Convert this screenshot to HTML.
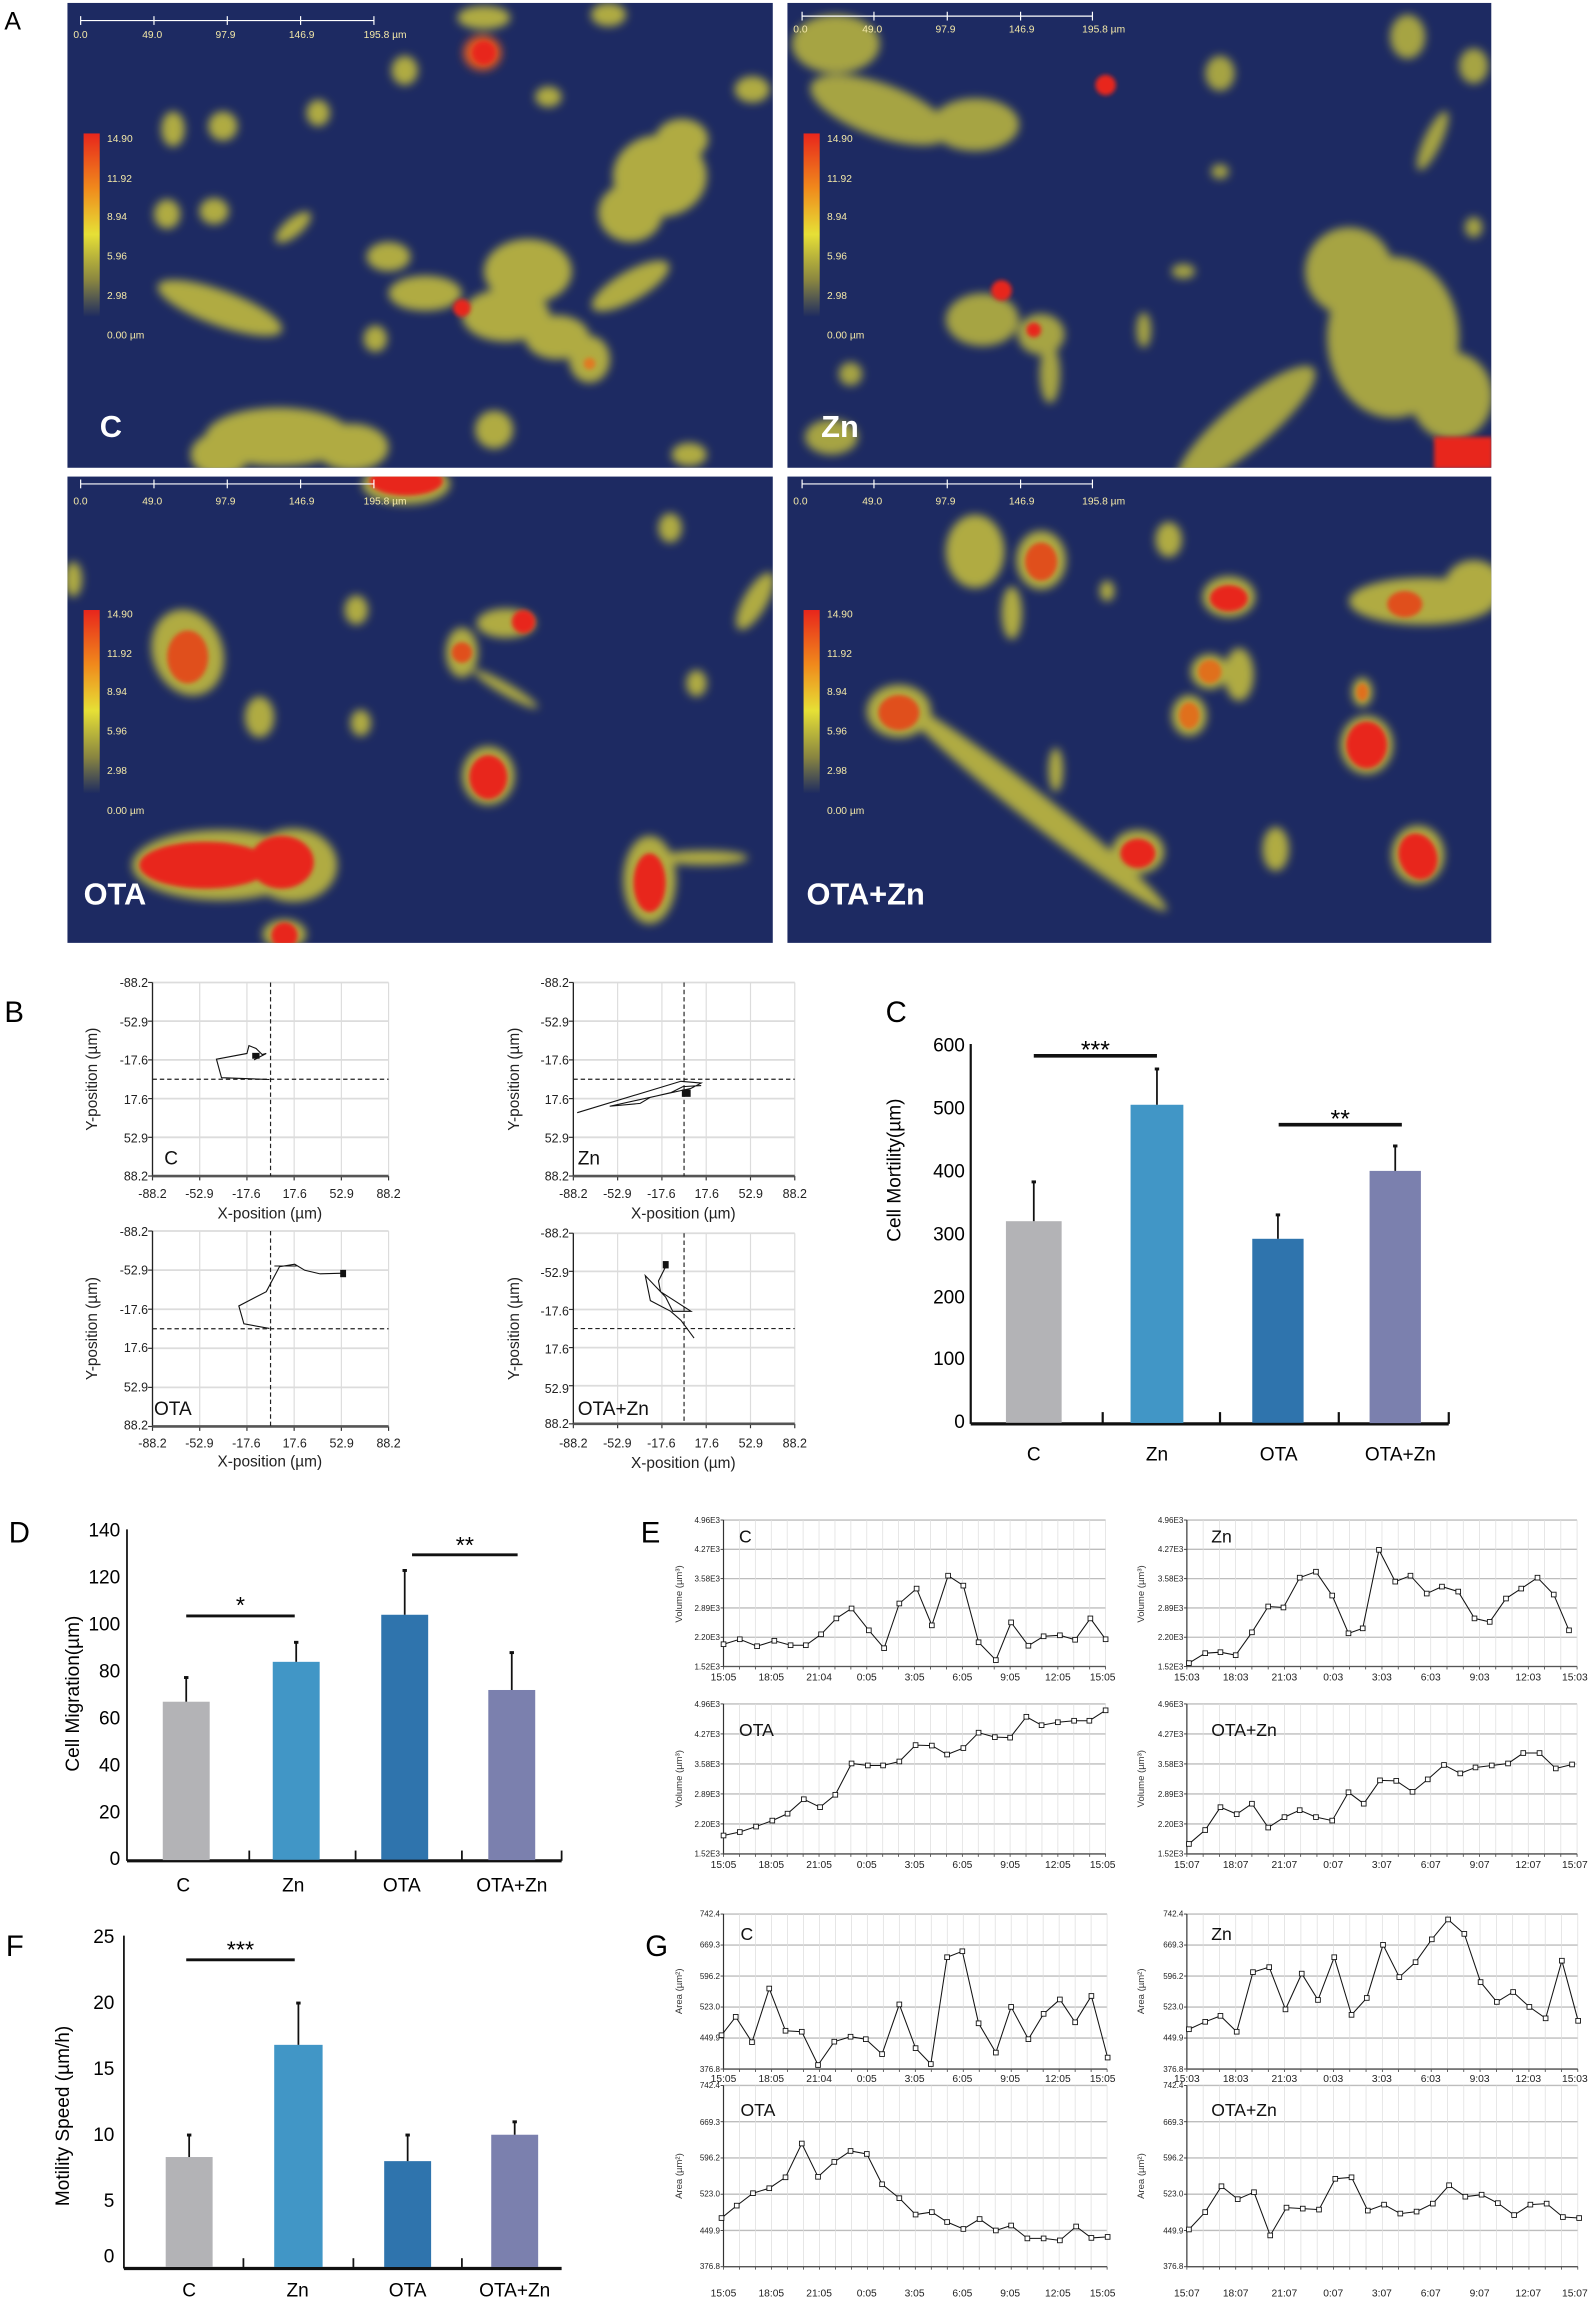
<!DOCTYPE html>
<html><head><meta charset="utf-8"><style>
html,body{margin:0;padding:0;background:#fff;width:1591px;height:2300px;overflow:hidden}
svg{display:block}
text{font-family:"Liberation Sans",sans-serif}
.n{font-family:"Liberation Sans Narrow","Liberation Sans",sans-serif}
</style></head><body>
<svg id="s" width="1591" height="2300" viewBox="0 0 1085 1568.5" xmlns="http://www.w3.org/2000/svg">
<defs>
<filter id="bl" x="-50%" y="-50%" width="200%" height="200%"><feGaussianBlur stdDeviation="3"/></filter>
<filter id="bl2" x="-50%" y="-50%" width="200%" height="200%"><feGaussianBlur stdDeviation="1.5"/></filter>
<linearGradient id="cb" x1="0" y1="0" x2="0" y2="1"><stop offset="0" stop-color="#e8261c"/><stop offset="0.3" stop-color="#f08a1c"/><stop offset="0.55" stop-color="#e6e036"/><stop offset="0.8" stop-color="#8a8640"/><stop offset="1" stop-color="#1e2b60"/></linearGradient>
<clipPath id="c1"><rect x="46" y="2" width="481" height="317"/></clipPath>
<clipPath id="c2"><rect x="537" y="2" width="480" height="317"/></clipPath>
<clipPath id="c3"><rect x="46" y="325" width="481" height="318"/></clipPath>
<clipPath id="c4"><rect x="537" y="325" width="480" height="318"/></clipPath>
</defs>
<text x="3" y="20" font-size="17" class="n">A</text>
<rect x="46" y="2" width="481" height="317" fill="#1d2a62"/>
<rect x="537" y="2" width="480" height="317" fill="#1d2a62"/>
<rect x="46" y="325" width="481" height="318" fill="#1d2a62"/>
<rect x="537" y="325" width="480" height="318" fill="#1d2a62"/>
<g clip-path="url(#c1)" filter="url(#bl)">
<g fill="#c9c23c" opacity="0.85">
<ellipse cx="450" cy="120" rx="32" ry="28"/><ellipse cx="430" cy="145" rx="22" ry="20"/><ellipse cx="465" cy="95" rx="18" ry="14"/>
<ellipse cx="360" cy="185" rx="30" ry="22"/><ellipse cx="345" cy="215" rx="30" ry="18"/><ellipse cx="380" cy="230" rx="22" ry="15"/>
<ellipse cx="290" cy="200" rx="25" ry="12"/><ellipse cx="265" cy="175" rx="15" ry="10"/>
<ellipse cx="150" cy="210" rx="45" ry="12" transform="rotate(20 150 210)"/>
<ellipse cx="402" cy="245" rx="14" ry="16"/><ellipse cx="430" cy="195" rx="30" ry="10" transform="rotate(-30 430 195)"/>
<ellipse cx="190" cy="298" rx="50" ry="20"/><ellipse cx="240" cy="305" rx="25" ry="16"/><ellipse cx="150" cy="310" rx="20" ry="15"/>
<ellipse cx="337" cy="293" rx="13" ry="13"/><ellipse cx="256" cy="231" rx="8" ry="9"/><ellipse cx="276" cy="48" rx="9" ry="10"/>
<ellipse cx="374" cy="66" rx="9" ry="7"/><ellipse cx="118" cy="88" rx="8" ry="12"/><ellipse cx="152" cy="86" rx="10" ry="10"/>
<ellipse cx="114" cy="146" rx="9" ry="10"/><ellipse cx="146" cy="144" rx="10" ry="9"/><ellipse cx="513" cy="61" rx="12" ry="9"/>
<ellipse cx="217" cy="77" rx="8" ry="9"/><ellipse cx="330" cy="12" rx="18" ry="8"/><ellipse cx="415" cy="10" rx="12" ry="8"/>
<ellipse cx="200" cy="155" rx="15" ry="6" transform="rotate(-40 200 155)"/><ellipse cx="470" cy="310" rx="12" ry="8"/>
</g>
<ellipse cx="329" cy="36" rx="13" ry="12" fill="#e05a20"/>
</g>
<g clip-path="url(#c1)" filter="url(#bl2)" fill="#e8261c"><circle cx="315" cy="210" r="6"/><circle cx="330" cy="36" r="8"/><circle cx="402" cy="248" r="4" fill="#e07a20"/></g>
<g clip-path="url(#c2)" filter="url(#bl)">
<g fill="#c9c23c" opacity="0.8">
<ellipse cx="600" cy="75" rx="50" ry="18" transform="rotate(20 600 75)"/><ellipse cx="665" cy="85" rx="30" ry="18"/><ellipse cx="570" cy="30" rx="30" ry="20"/>
<ellipse cx="832" cy="50" rx="10" ry="12"/><ellipse cx="977" cy="96" rx="6" ry="22" transform="rotate(25 977 96)"/><ellipse cx="832" cy="117" rx="6" ry="5"/>
<ellipse cx="670" cy="218" rx="25" ry="18"/><ellipse cx="710" cy="228" rx="16" ry="14"/><ellipse cx="716" cy="255" rx="7" ry="20"/>
<ellipse cx="950" cy="230" rx="45" ry="55"/><ellipse cx="920" cy="185" rx="30" ry="30"/><ellipse cx="990" cy="270" rx="28" ry="30"/>
<ellipse cx="850" cy="290" rx="60" ry="16" transform="rotate(-40 850 290)"/><ellipse cx="807" cy="185" rx="8" ry="5"/>
<ellipse cx="960" cy="25" rx="12" ry="15"/><ellipse cx="1005" cy="45" rx="10" ry="12"/><ellipse cx="1005" cy="155" rx="6" ry="7"/>
<ellipse cx="580" cy="255" rx="8" ry="8"/><ellipse cx="567" cy="298" rx="18" ry="12"/><ellipse cx="780" cy="225" rx="5" ry="12"/>
</g>
</g>
<g clip-path="url(#c2)" filter="url(#bl2)" fill="#e8261c"><circle cx="754" cy="58" r="7"/><circle cx="683" cy="198" r="7"/><circle cx="705" cy="225" r="5"/><rect x="978" y="298" width="40" height="22"/></g>
<g clip-path="url(#c3)" filter="url(#bl)">
<g fill="#c9c23c" opacity="0.85">
<ellipse cx="128" cy="445" rx="24" ry="30" transform="rotate(-20 128 445)"/><ellipse cx="177" cy="489" rx="10" ry="14"/><ellipse cx="243" cy="416" rx="8" ry="10"/>
<ellipse cx="315" cy="445" rx="11" ry="17"/><ellipse cx="345" cy="425" rx="20" ry="10"/><ellipse cx="475" cy="466" rx="7" ry="9"/>
<ellipse cx="333" cy="529" rx="18" ry="20"/><ellipse cx="150" cy="590" rx="60" ry="24"/><ellipse cx="200" cy="590" rx="30" ry="25"/>
<ellipse cx="443" cy="600" rx="18" ry="30"/><ellipse cx="480" cy="585" rx="30" ry="5"/><ellipse cx="194" cy="637" rx="15" ry="10"/>
<ellipse cx="457" cy="360" rx="8" ry="10"/><ellipse cx="246" cy="493" rx="7" ry="9"/><ellipse cx="277" cy="330" rx="30" ry="14"/>
<ellipse cx="515" cy="410" rx="8" ry="22" transform="rotate(30 515 410)"/><ellipse cx="50" cy="395" rx="6" ry="12"/><ellipse cx="345" cy="470" rx="25" ry="4" transform="rotate(30 345 470)"/>
</g>
</g>
<g clip-path="url(#c3)" filter="url(#bl2)" fill="#e8261c">
<ellipse cx="128" cy="448" rx="14" ry="18" fill="#e0501e"/><circle cx="357" cy="424" r="8"/><circle cx="315" cy="445" r="7" fill="#e0501e"/>
<ellipse cx="333" cy="530" rx="13" ry="15"/><ellipse cx="140" cy="590" rx="45" ry="16"/><ellipse cx="192" cy="588" rx="22" ry="18"/>
<ellipse cx="443" cy="602" rx="11" ry="20"/><circle cx="194" cy="638" r="9"/><ellipse cx="277" cy="328" rx="25" ry="10"/>
</g>
<g clip-path="url(#c4)" filter="url(#bl)">
<g fill="#c9c23c" opacity="0.85">
<ellipse cx="710" cy="382" rx="17" ry="20"/><ellipse cx="665" cy="376" rx="20" ry="25"/><ellipse cx="838" cy="407" rx="18" ry="14"/>
<ellipse cx="970" cy="410" rx="50" ry="16"/><ellipse cx="1005" cy="400" rx="20" ry="18"/><ellipse cx="690" cy="418" rx="7" ry="18"/>
<ellipse cx="825" cy="458" rx="13" ry="12"/><ellipse cx="845" cy="460" rx="10" ry="18"/><ellipse cx="811" cy="488" rx="12" ry="14"/>
<ellipse cx="929" cy="472" rx="7" ry="10"/><ellipse cx="932" cy="508" rx="18" ry="20"/><ellipse cx="613" cy="485" rx="22" ry="18"/>
<ellipse cx="705" cy="550" rx="115" ry="10" transform="rotate(38 705 550)"/><ellipse cx="776" cy="581" rx="18" ry="15"/>
<ellipse cx="967" cy="583" rx="18" ry="20"/><ellipse cx="870" cy="579" rx="9" ry="15"/><ellipse cx="797" cy="368" rx="9" ry="12"/>
<ellipse cx="755" cy="403" rx="5" ry="7"/><ellipse cx="720" cy="525" rx="5" ry="15"/>
</g>
</g>
<g clip-path="url(#c4)" filter="url(#bl2)" fill="#e8261c">
<ellipse cx="710" cy="383" rx="11" ry="13" fill="#e0501e"/><ellipse cx="838" cy="408" rx="13" ry="9"/><ellipse cx="958" cy="412" rx="12" ry="9" fill="#e0501e"/>
<ellipse cx="825" cy="458" rx="8" ry="8" fill="#e0701e"/><ellipse cx="811" cy="488" rx="7" ry="9" fill="#e0701e"/><ellipse cx="932" cy="508" rx="14" ry="16"/>
<ellipse cx="613" cy="486" rx="14" ry="12" fill="#e0501e"/><ellipse cx="776" cy="582" rx="12" ry="10"/><ellipse cx="967" cy="584" rx="13" ry="16" transform="rotate(-20 967 584)"/>
<ellipse cx="929" cy="472" rx="4" ry="6" fill="#e0701e"/>
</g>
<!-- scale bars & colorbars -->
<g fill="#f3e8a8" font-size="7" class="n" stroke-width="0.8">
<g stroke="#fff"><line x1="55" y1="14" x2="255" y2="14"/><line x1="55" y1="11" x2="55" y2="17"/><line x1="105" y1="11" x2="105" y2="17"/><line x1="155" y1="11" x2="155" y2="17"/><line x1="205" y1="11" x2="205" y2="17"/><line x1="255" y1="11" x2="255" y2="17"/>
<line x1="547" y1="11" x2="745" y2="11"/><line x1="547" y1="8" x2="547" y2="14"/><line x1="596" y1="8" x2="596" y2="14"/><line x1="646" y1="8" x2="646" y2="14"/><line x1="696" y1="8" x2="696" y2="14"/><line x1="745" y1="8" x2="745" y2="14"/>
<line x1="55" y1="330" x2="255" y2="330"/><line x1="55" y1="327" x2="55" y2="333"/><line x1="105" y1="327" x2="105" y2="333"/><line x1="155" y1="327" x2="155" y2="333"/><line x1="205" y1="327" x2="205" y2="333"/><line x1="255" y1="327" x2="255" y2="333"/>
<line x1="547" y1="330" x2="745" y2="330"/><line x1="547" y1="327" x2="547" y2="333"/><line x1="596" y1="327" x2="596" y2="333"/><line x1="646" y1="327" x2="646" y2="333"/><line x1="696" y1="327" x2="696" y2="333"/><line x1="745" y1="327" x2="745" y2="333"/></g>
<text x="50" y="26">0.0</text><text x="97" y="26">49.0</text><text x="147" y="26">97.9</text><text x="197" y="26">146.9</text><text x="248" y="26">195.8 µm</text>
<text x="541" y="22">0.0</text><text x="588" y="22">49.0</text><text x="638" y="22">97.9</text><text x="688" y="22">146.9</text><text x="738" y="22">195.8 µm</text>
<text x="50" y="344">0.0</text><text x="97" y="344">49.0</text><text x="147" y="344">97.9</text><text x="197" y="344">146.9</text><text x="248" y="344">195.8 µm</text>
<text x="541" y="344">0.0</text><text x="588" y="344">49.0</text><text x="638" y="344">97.9</text><text x="688" y="344">146.9</text><text x="738" y="344">195.8 µm</text>
<rect x="57" y="91" width="11" height="125" fill="url(#cb)"/><rect x="548" y="91" width="11" height="125" fill="url(#cb)"/>
<rect x="57" y="416" width="11" height="125" fill="url(#cb)"/><rect x="548" y="416" width="11" height="125" fill="url(#cb)"/>
<text x="73" y="97">14.90</text><text x="73" y="124">11.92</text><text x="73" y="150">8.94</text><text x="73" y="177">5.96</text><text x="73" y="204">2.98</text><text x="73" y="231">0.00 µm</text>
<text x="564" y="97">14.90</text><text x="564" y="124">11.92</text><text x="564" y="150">8.94</text><text x="564" y="177">5.96</text><text x="564" y="204">2.98</text><text x="564" y="231">0.00 µm</text>
<text x="73" y="421">14.90</text><text x="73" y="448">11.92</text><text x="73" y="474">8.94</text><text x="73" y="501">5.96</text><text x="73" y="528">2.98</text><text x="73" y="555">0.00 µm</text>
<text x="564" y="421">14.90</text><text x="564" y="448">11.92</text><text x="564" y="474">8.94</text><text x="564" y="501">5.96</text><text x="564" y="528">2.98</text><text x="564" y="555">0.00 µm</text>
</g>
<g fill="#fff" font-weight="bold" font-size="21">
<text x="68" y="298">C</text><text x="560" y="298">Zn</text><text x="57" y="617">OTA</text><text x="550" y="617">OTA+Zn</text>
</g>

<!-- B -->
<text x="3" y="697" font-size="20" class="n">B</text>
<g id="bgrids"></g>
<g font-size="8.5" fill="#222" text-anchor="end">
<text x="101" y="673">-88.2</text><text x="101" y="700">-52.9</text><text x="101" y="726">-17.6</text><text x="101" y="753">17.6</text><text x="101" y="779">52.9</text><text x="101" y="805">88.2</text>
<text x="388" y="673">-88.2</text><text x="388" y="700">-52.9</text><text x="388" y="726">-17.6</text><text x="388" y="753">17.6</text><text x="388" y="779">52.9</text><text x="388" y="805">88.2</text>
<text x="101" y="843">-88.2</text><text x="101" y="869">-52.9</text><text x="101" y="896">-17.6</text><text x="101" y="922">17.6</text><text x="101" y="949">52.9</text><text x="101" y="975">88.2</text>
<text x="388" y="844">-88.2</text><text x="388" y="871">-52.9</text><text x="388" y="897">-17.6</text><text x="388" y="923">17.6</text><text x="388" y="950">52.9</text><text x="388" y="974">88.2</text>
</g>
<g font-size="8.5" fill="#222" text-anchor="middle">
<text x="104" y="817">-88.2</text><text x="136" y="817">-52.9</text><text x="168" y="817">-17.6</text><text x="201" y="817">17.6</text><text x="233" y="817">52.9</text><text x="265" y="817">88.2</text>
<text x="391" y="817">-88.2</text><text x="421" y="817">-52.9</text><text x="451" y="817">-17.6</text><text x="482" y="817">17.6</text><text x="512" y="817">52.9</text><text x="542" y="817">88.2</text>
<text x="104" y="987">-88.2</text><text x="136" y="987">-52.9</text><text x="168" y="987">-17.6</text><text x="201" y="987">17.6</text><text x="233" y="987">52.9</text><text x="265" y="987">88.2</text>
<text x="391" y="987">-88.2</text><text x="421" y="987">-52.9</text><text x="451" y="987">-17.6</text><text x="482" y="987">17.6</text><text x="512" y="987">52.9</text><text x="542" y="987">88.2</text>
<g font-size="10.5"><text x="184" y="831">X-position (µm)</text><text x="466" y="831">X-position (µm)</text><text x="184" y="1000">X-position (µm)</text><text x="466" y="1001">X-position (µm)</text>
<text transform="translate(66 736) rotate(-90)">Y-position (µm)</text><text transform="translate(354 736) rotate(-90)">Y-position (µm)</text>
<text transform="translate(66 906) rotate(-90)">Y-position (µm)</text><text transform="translate(354 906) rotate(-90)">Y-position (µm)</text></g>
</g>
<g font-size="13" fill="#111"><text x="112" y="794">C</text><text x="394" y="794">Zn</text><text x="105" y="965">OTA</text><text x="394" y="965">OTA+Zn</text></g>
<g transform="matrix(0.693,0,0,0.2432,0,654.7)" fill="none" stroke="#111" stroke-width="1.1" vector-effect="non-scaling-stroke">
<polyline vector-effect="non-scaling-stroke" points="265,335 218,330 213,278 243,262 245,240 252,248 258,265 262,262 250,280"/>
<polyline vector-effect="non-scaling-stroke" points="568,428 670,340 690,345 680,360 600,410 630,402 640,385 660,372 672,355 690,352"/>
<polyline vector-effect="non-scaling-stroke" points="265,1033 240,1020 235,970 262,930 275,860 290,853 300,870 315,880 338,878"/>
<polyline vector-effect="non-scaling-stroke" points="270,858 292,858"/>
<polyline vector-effect="non-scaling-stroke" points="683,1060 670,1010 660,985 640,955 635,885 655,945 662,985 680,985 650,930 648,900 655,860"/>
</g>
<g fill="#111"><rect x="172" y="718" width="5" height="4"/><rect x="465" y="743" width="6" height="5"/><rect x="232" y="866" width="4" height="5"/><rect x="452" y="860" width="4" height="5"/></g>

<!-- C -->
<text x="604" y="697" font-size="20" class="n">C</text>
<g stroke="#111" stroke-width="1.5"><line x1="662" y1="712" x2="662" y2="971"/><line x1="662" y1="971" x2="988" y2="971" stroke-width="2.2"/>
<line x1="752" y1="963" x2="752" y2="971"/><line x1="832" y1="963" x2="832" y2="971"/><line x1="913" y1="963" x2="913" y2="971"/><line x1="988" y1="963" x2="988" y2="971"/></g>
<g font-size="13" text-anchor="end" class="n"><text x="658" y="717">600</text><text x="658" y="760">500</text><text x="658" y="803">400</text><text x="658" y="846">300</text><text x="658" y="889">200</text><text x="658" y="931">100</text><text x="658" y="974">0</text></g>
<rect x="686" y="832.8" width="38" height="137.5" fill="#b3b3b6"/><rect x="771" y="753.4" width="36" height="217" fill="#4196c6"/>
<rect x="854" y="844.8" width="35" height="125.5" fill="#2f74ad"/><rect x="934" y="798.5" width="35" height="172" fill="#7b80ae"/>
<g stroke="#111" stroke-width="1.2"><line x1="705" y1="832.8" x2="705" y2="806"/><line x1="789" y1="753.4" x2="789" y2="729"/><line x1="871.5" y1="844.8" x2="871.5" y2="828.5"/><line x1="951.5" y1="798.5" x2="951.5" y2="781.5"/>
<line x1="705" y1="720" x2="789" y2="720" stroke-width="2.5"/><line x1="872" y1="767" x2="956" y2="767" stroke-width="2.5"/></g>
<g fill="#111"><rect x="703.5" y="805" width="3" height="2"/><rect x="787.5" y="728" width="3" height="2"/><rect x="870" y="827.5" width="3" height="2"/><rect x="950" y="780.5" width="3" height="2"/></g>
<g font-size="17" text-anchor="middle"><text x="747" y="722">***</text><text x="914" y="769">**</text></g>
<g font-size="13" text-anchor="middle" class="n"><text x="705" y="996">C</text><text x="789" y="996">Zn</text><text x="872" y="996">OTA</text><text x="955" y="996">OTA+Zn</text>
<text transform="translate(614 798) rotate(-90)" font-size="13" font-family="Liberation Sans">Cell Mortility(µm)</text></g>

<!-- D -->
<text x="6" y="1052" font-size="20" class="n">D</text>
<g stroke="#111" stroke-width="1.2"><line x1="86.6" y1="1043" x2="86.6" y2="1269"/><line x1="86.6" y1="1269" x2="383" y2="1269" stroke-width="2.2"/>
<line x1="170" y1="1262" x2="170" y2="1269"/><line x1="242.5" y1="1262" x2="242.5" y2="1269"/><line x1="315" y1="1262" x2="315" y2="1269"/><line x1="383" y1="1262" x2="383" y2="1269"/></g>
<g font-size="13" text-anchor="end" class="n"><text x="82" y="1048">140</text><text x="82" y="1080">120</text><text x="82" y="1112">100</text><text x="82" y="1144">80</text><text x="82" y="1176">60</text><text x="82" y="1208">40</text><text x="82" y="1240">20</text><text x="82" y="1272">0</text></g>
<rect x="111" y="1160.5" width="32" height="108" fill="#b3b3b6"/><rect x="186" y="1133.3" width="32" height="135" fill="#4196c6"/>
<rect x="260" y="1101.2" width="32" height="167" fill="#2f74ad"/><rect x="333" y="1152.5" width="32" height="116" fill="#7b80ae"/>
<g stroke="#111" stroke-width="1.2"><line x1="127" y1="1160.5" x2="127" y2="1143.7"/><line x1="202" y1="1133.3" x2="202" y2="1119.6"/><line x1="276" y1="1101.2" x2="276" y2="1070.7"/><line x1="349" y1="1152.5" x2="349" y2="1126.8"/>
<line x1="127" y1="1102" x2="201" y2="1102" stroke-width="2"/><line x1="281" y1="1060.3" x2="353" y2="1060.3" stroke-width="2"/></g>
<g fill="#111"><rect x="125.5" y="1143" width="3" height="2"/><rect x="200.5" y="1119" width="3" height="2"/><rect x="274.5" y="1070" width="3" height="2"/><rect x="347.5" y="1126" width="3" height="2"/></g>
<g font-size="16" text-anchor="middle"><text x="164" y="1100">*</text><text x="317" y="1059">**</text></g>
<g font-size="13" text-anchor="middle" class="n"><text x="125" y="1290">C</text><text x="200" y="1290">Zn</text><text x="274" y="1290">OTA</text><text x="349" y="1290">OTA+Zn</text>
<text transform="translate(54 1155) rotate(-90)" font-family="Liberation Sans">Cell Migration(µm)</text></g>

<!-- F -->
<text x="4" y="1334" font-size="20" class="n">F</text>
<g stroke="#111" stroke-width="1.2"><line x1="84.5" y1="1320" x2="84.5" y2="1547"/><line x1="84.5" y1="1547" x2="383" y2="1547" stroke-width="2.2"/>
<line x1="166" y1="1540" x2="166" y2="1547"/><line x1="241" y1="1540" x2="241" y2="1547"/><line x1="315" y1="1540" x2="315" y2="1547"/></g>
<g font-size="13" text-anchor="end" class="n"><text x="78" y="1325">25</text><text x="78" y="1370">20</text><text x="78" y="1415">15</text><text x="78" y="1460">10</text><text x="78" y="1505">5</text><text x="78" y="1543">0</text></g>
<rect x="113" y="1471" width="32" height="75" fill="#b3b3b6"/><rect x="187" y="1394.5" width="33" height="151.5" fill="#4196c6"/>
<rect x="262" y="1473.8" width="32" height="72.2" fill="#2f74ad"/><rect x="335" y="1455.8" width="32" height="90.2" fill="#7b80ae"/>
<g stroke="#111" stroke-width="1.2"><line x1="129" y1="1471" x2="129" y2="1455.8"/><line x1="203.5" y1="1394.5" x2="203.5" y2="1365.6"/><line x1="278" y1="1473.8" x2="278" y2="1455.8"/><line x1="351" y1="1455.8" x2="351" y2="1446.8"/>
<line x1="127" y1="1336.5" x2="201" y2="1336.5" stroke-width="2"/></g>
<g fill="#111"><rect x="127.5" y="1455" width="3" height="2"/><rect x="202" y="1365" width="3" height="2"/><rect x="276.5" y="1455" width="3" height="2"/><rect x="349.5" y="1446" width="3" height="2"/></g>
<text x="164" y="1335" font-size="16" text-anchor="middle">***</text>
<g font-size="13" text-anchor="middle" class="n"><text x="129" y="1566">C</text><text x="203" y="1566">Zn</text><text x="278" y="1566">OTA</text><text x="351" y="1566">OTA+Zn</text>
<text transform="translate(47 1443) rotate(-90)" font-family="Liberation Sans">Motility Speed (µm/h)</text></g>

<!-- E & G -->
<text x="437" y="1052" font-size="20" class="n">E</text>
<text x="440" y="1334" font-size="20" class="n">G</text>
<g id="lines"></g>
<g font-size="12" fill="#111">
<text x="504" y="1052">C</text><text x="826" y="1052">Zn</text><text x="504" y="1184">OTA</text><text x="826" y="1184">OTA+Zn</text>
<text x="505" y="1323">C</text><text x="826" y="1323">Zn</text><text x="505" y="1443">OTA</text><text x="826" y="1443">OTA+Zn</text>
</g>
<g font-size="5.5" text-anchor="end" class="n" fill="#222">
<text x="491" y="1038.5">4.96E3</text><text x="491" y="1058.5">4.27E3</text><text x="491" y="1078.5">3.58E3</text><text x="491" y="1098.5">2.89E3</text><text x="491" y="1118.5">2.20E3</text><text x="491" y="1138.5">1.52E3</text>
<text x="807" y="1038.5">4.96E3</text><text x="807" y="1058.5">4.27E3</text><text x="807" y="1078.5">3.58E3</text><text x="807" y="1098.5">2.89E3</text><text x="807" y="1118.5">2.20E3</text><text x="807" y="1138.5">1.52E3</text>
<text x="491" y="1164">4.96E3</text><text x="491" y="1184.5">4.27E3</text><text x="491" y="1205">3.58E3</text><text x="491" y="1225.5">2.89E3</text><text x="491" y="1246">2.20E3</text><text x="491" y="1266">1.52E3</text>
<text x="807" y="1164">4.96E3</text><text x="807" y="1184.5">4.27E3</text><text x="807" y="1205">3.58E3</text><text x="807" y="1225.5">2.89E3</text><text x="807" y="1246">2.20E3</text><text x="807" y="1266">1.52E3</text>
<text x="491" y="1307">742.4</text><text x="491" y="1328">669.3</text><text x="491" y="1349.5">596.2</text><text x="491" y="1370.5">523.0</text><text x="491" y="1391.5">449.9</text><text x="491" y="1413">376.8</text>
<text x="807" y="1307">742.4</text><text x="807" y="1328">669.3</text><text x="807" y="1349.5">596.2</text><text x="807" y="1370.5">523.0</text><text x="807" y="1391.5">449.9</text><text x="807" y="1413">376.8</text>
<text x="491" y="1424">742.4</text><text x="491" y="1449">669.3</text><text x="491" y="1473.5">596.2</text><text x="491" y="1498">523.0</text><text x="491" y="1523">449.9</text><text x="491" y="1547.5">376.8</text>
<text x="807" y="1424">742.4</text><text x="807" y="1449">669.3</text><text x="807" y="1473.5">596.2</text><text x="807" y="1498">523.0</text><text x="807" y="1523">449.9</text><text x="807" y="1547.5">376.8</text>
</g>
<g font-size="7" text-anchor="middle" class="n" fill="#222">
<g transform="translate(0 1146)"><text x="493.4">15:05</text><text x="526">18:05</text><text x="558.6">21:04</text><text x="591.1">0:05</text><text x="623.7">3:05</text><text x="656.3">6:05</text><text x="688.9">9:05</text><text x="721.4">12:05</text><text x="752">15:05</text></g>
<g transform="translate(0 1146)"><text x="809.4">15:03</text><text x="842.7">18:03</text><text x="875.9">21:03</text><text x="909.2">0:03</text><text x="942.4">3:03</text><text x="975.7">6:03</text><text x="1009">9:03</text><text x="1042.2">12:03</text><text x="1074">15:03</text></g>
<g transform="translate(0 1274)"><text x="493.4">15:05</text><text x="526">18:05</text><text x="558.6">21:05</text><text x="591.1">0:05</text><text x="623.7">3:05</text><text x="656.3">6:05</text><text x="688.9">9:05</text><text x="721.4">12:05</text><text x="752">15:05</text></g>
<g transform="translate(0 1274)"><text x="809.4">15:07</text><text x="842.7">18:07</text><text x="875.9">21:07</text><text x="909.2">0:07</text><text x="942.4">3:07</text><text x="975.7">6:07</text><text x="1009">9:07</text><text x="1042.2">12:07</text><text x="1074">15:07</text></g>
<g transform="translate(0 1420)"><text x="493.4">15:05</text><text x="526">18:05</text><text x="558.6">21:04</text><text x="591.1">0:05</text><text x="623.7">3:05</text><text x="656.3">6:05</text><text x="688.9">9:05</text><text x="721.4">12:05</text><text x="752">15:05</text></g>
<g transform="translate(0 1420)"><text x="809.4">15:03</text><text x="842.7">18:03</text><text x="875.9">21:03</text><text x="909.2">0:03</text><text x="942.4">3:03</text><text x="975.7">6:03</text><text x="1009">9:03</text><text x="1042.2">12:03</text><text x="1074">15:03</text></g>
<g transform="translate(0 1566)"><text x="493.4">15:05</text><text x="526">18:05</text><text x="558.6">21:05</text><text x="591.1">0:05</text><text x="623.7">3:05</text><text x="656.3">6:05</text><text x="688.9">9:05</text><text x="721.4">12:05</text><text x="752">15:05</text></g>
<g transform="translate(0 1566)"><text x="809.4">15:07</text><text x="842.7">18:07</text><text x="875.9">21:07</text><text x="909.2">0:07</text><text x="942.4">3:07</text><text x="975.7">6:07</text><text x="1009">9:07</text><text x="1042.2">12:07</text><text x="1074">15:07</text></g>
</g>
<g font-size="6.5" text-anchor="middle" fill="#333">
<text transform="translate(465 1087) rotate(-90)">Volume (µm³)</text><text transform="translate(780 1087) rotate(-90)">Volume (µm³)</text>
<text transform="translate(465 1213) rotate(-90)">Volume (µm³)</text><text transform="translate(780 1213) rotate(-90)">Volume (µm³)</text>
<text transform="translate(465 1358) rotate(-90)">Area (µm²)</text><text transform="translate(780 1358) rotate(-90)">Area (µm²)</text>
<text transform="translate(465 1484) rotate(-90)">Area (µm²)</text><text transform="translate(780 1484) rotate(-90)">Area (µm²)</text>
</g>
</svg>
<script>
const NS="http://www.w3.org/2000/svg";
function el(p,t,a){const e=document.createElementNS(NS,t);for(const k in a)e.setAttribute(k,a[k]);p.appendChild(e);return e;}
// B grids
const bg=document.getElementById('bgrids');
function bgrid(x0,x1,yt,yb){
 for(let i=0;i<6;i++){const y=yt+i*(yb-yt)/5;el(bg,'line',{x1:x0,x2:x1,y1:y,y2:y,stroke:'#dcdcdc','stroke-width':1.2});
  const x=x0+i*(x1-x0)/5;el(bg,'line',{x1:x,x2:x,y1:yt,y2:yb,stroke:'#dcdcdc','stroke-width':0.8});
  el(bg,'line',{x1:x0-3,x2:x0,y1:y,y2:y,stroke:'#333','stroke-width':0.8});el(bg,'line',{x1:x,x2:x,y1:yb,y2:yb+3,stroke:'#333','stroke-width':0.8});}
 el(bg,'line',{x1:x0,x2:x0,y1:yt,y2:yb,stroke:'#222','stroke-width':0.9});
 el(bg,'line',{x1:x0,x2:x1,y1:yb,y2:yb,stroke:'#555','stroke-width':1.8});
 const cx=(x0+x1)/2,cy=(yt+yb)/2;
 el(bg,'line',{x1:cx,x2:cx,y1:yt,y2:yb,stroke:'#222','stroke-width':0.8,'stroke-dasharray':'3,2'});
 el(bg,'line',{x1:x0,x2:x1,y1:cy,y2:cy,stroke:'#222','stroke-width':0.8,'stroke-dasharray':'3,2'});
}
bgrid(104,265,670,802);bgrid(391,542,670,802);bgrid(104,265,839.5,972.8);bgrid(391,542,841,971);
// line charts
const L=document.getElementById('lines');
const S=(a)=>[a[0]/1.443,1036.6+a[1]*0.3388];
function chart(x0,x1,yt,yb,raw){
 for(let i=0;i<6;i++){const y=yt+i*(yb-yt)/5;el(L,'line',{x1:x0,x2:x1,y1:y,y2:y,stroke:'#bdbdbd','stroke-width':0.9});el(L,'line',{x1:x0-2,x2:x0,y1:y,y2:y,stroke:'#333','stroke-width':0.6});}
 for(let j=0;j<=24;j++){const x=x0+j*(x1-x0)/24;el(L,'line',{x1:x,x2:x,y1:yt,y2:yb,stroke:'#dedede','stroke-width':0.5});el(L,'line',{x1:x,x2:x,y1:yb,y2:yb+2,stroke:'#333','stroke-width':0.5});}
 el(L,'line',{x1:x0,x2:x0,y1:yt,y2:yb,stroke:'#333','stroke-width':0.8});
 el(L,'line',{x1:x0,x2:x1,y1:yb,y2:yb,stroke:'#555','stroke-width':0.9});
 const p=[];for(let i=0;i<raw.length;i+=2)p.push(S([raw[i],raw[i+1]]));
 el(L,'polyline',{points:p.map(q=>q.join(',')).join(' '),fill:'none',stroke:'#111','stroke-width':0.7});
 p.forEach(q=>el(L,'rect',{x:q[0]-1.6,y:q[1]-1.6,width:3.2,height:3.2,fill:'#fff',stroke:'#111','stroke-width':0.6}));
}
chart(493.4,754,1036.6,1136.5,[712,250,728,240,745,254,762,243,778,252,793,252,808,230,823,198,838,178,855,222,870,258,885,168,902,138,917,212,933,112,948,132,963,246,980,282,995,206,1012,253,1027,234,1043,232,1058,241,1073,198,1088,240]);
chart(809.4,1075.5,1036.6,1136.5,[1170,288,1186,268,1201,266,1216,272,1232,226,1248,174,1263,176,1279,116,1295,104,1311,152,1327,228,1341,218,1357,60,1373,124,1388,112,1404,148,1419,134,1435,144,1451,198,1466,205,1482,158,1497,138,1513,116,1529,150,1544,222]);
chart(493.4,754,1162,1264.3,[712,635,728,628,744,617,760,605,775,591,791,562,807,578,822,553,838,490,854,494,869,494,885,486,901,453,917,454,932,472,948,459,963,428,979,437,994,438,1010,396,1025,413,1041,407,1057,404,1072,404,1088,383]);
chart(809.4,1075.5,1162,1264.3,[1170,652,1186,624,1201,578,1217,592,1232,571,1248,619,1264,598,1279,584,1295,598,1311,605,1327,548,1342,571,1358,524,1374,525,1390,547,1405,522,1421,493,1437,510,1452,498,1468,494,1484,490,1499,469,1515,469,1531,500,1547,492]);
chart(493.4,755,1305.3,1411,[710,1037,724,1000,740,1051,757,943,773,1028,789,1030,805,1097,821,1050,837,1040,852,1045,868,1075,885,975,901,1063,916,1095,932,880,947,868,963,1013,980,1072,995,980,1012,1045,1027,994,1043,965,1058,1011,1074,958,1090,1082]);
chart(809.4,1076,1305.3,1411,[1170,1025,1186,1010,1201,998,1217,1030,1233,910,1249,900,1265,985,1281,913,1297,966,1313,880,1330,996,1345,962,1361,855,1377,920,1393,890,1409,844,1425,804,1441,833,1457,930,1473,970,1489,950,1505,980,1521,1003,1537,887,1553,1008]);
chart(493.4,755,1422.2,1545.8,[710,1405,725,1380,741,1355,757,1345,773,1323,789,1255,805,1322,821,1292,837,1270,853,1276,868,1337,885,1365,901,1398,917,1393,932,1413,948,1427,964,1407,980,1430,995,1420,1011,1446,1027,1446,1043,1450,1059,1422,1074,1445,1090,1443]);
chart(809.4,1076,1422.2,1545.8,[1170,1428,1186,1393,1202,1341,1218,1367,1234,1353,1250,1440,1266,1384,1282,1386,1298,1388,1314,1326,1330,1323,1346,1390,1362,1378,1378,1396,1394,1392,1410,1376,1426,1339,1442,1362,1458,1358,1474,1375,1490,1399,1506,1378,1522,1376,1538,1403,1554,1405]);
</script>
</body></html>
